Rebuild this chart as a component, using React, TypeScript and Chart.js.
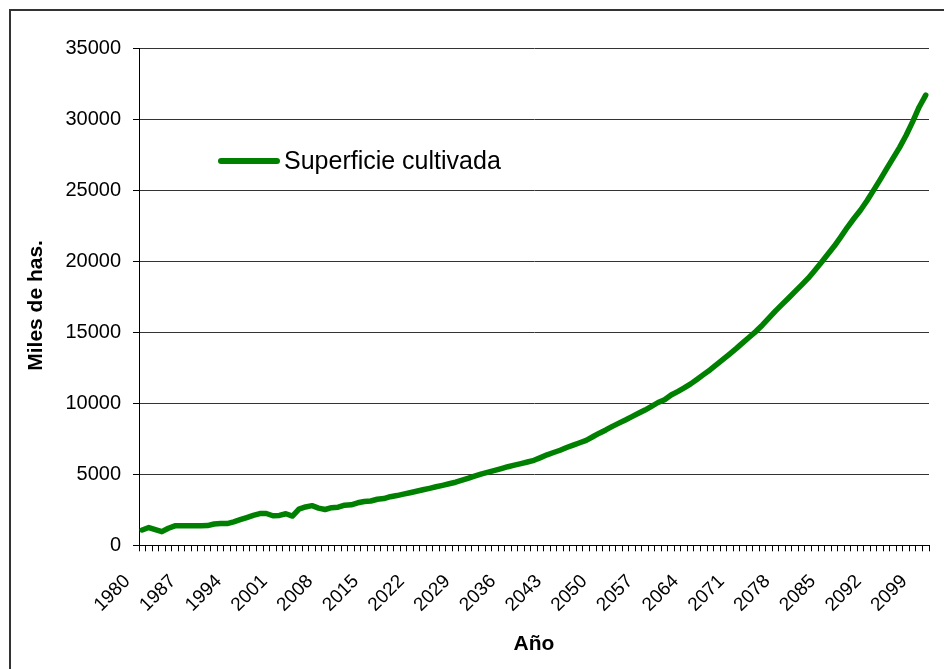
import { useEffect, useRef } from 'react';
import { Chart, registerables } from 'chart.js';

Chart.register(...registerables);

const years = [
  '1980', '1981', '1982', '1983', '1984', '1985', '1986', '1987', '1988', '1989',
  '1990', '1991', '1992', '1993', '1994', '1995', '1996', '1997', '1998', '1999',
  '2000', '2001', '2002', '2003', '2004', '2005', '2006', '2007', '2008', '2009',
  '2010', '2011', '2012', '2013', '2014', '2015', '2016', '2017', '2018', '2019',
  '2020', '2021', '2022', '2023', '2024', '2025', '2026', '2027', '2028', '2029',
  '2030', '2031', '2032', '2033', '2034', '2035', '2036', '2037', '2038', '2039',
  '2040', '2041', '2042', '2043', '2044', '2045', '2046', '2047', '2048', '2049',
  '2050', '2051', '2052', '2053', '2054', '2055', '2056', '2057', '2058', '2059',
  '2060', '2061', '2062', '2063', '2064', '2065', '2066', '2067', '2068', '2069',
  '2070', '2071', '2072', '2073', '2074', '2075', '2076', '2077', '2078', '2079',
  '2080', '2081', '2082', '2083', '2084', '2085', '2086', '2087', '2088', '2089',
  '2090', '2091', '2092', '2093', '2094', '2095', '2096', '2097', '2098', '2099',
  '2100',
];

const superficie = [
  1080, 1250, 1100, 960, 1200, 1370, 1380, 1380, 1380, 1380,
  1390, 1500, 1530, 1530, 1650, 1800, 1950, 2100, 2230, 2240,
  2080, 2100, 2220, 2060, 2550, 2700, 2790, 2620, 2520, 2650,
  2680, 2820, 2850, 2990, 3080, 3120, 3240, 3290, 3420, 3500,
  3600, 3700, 3800, 3910, 4010, 4120, 4220, 4330, 4440, 4580,
  4730, 4880, 5030, 5150, 5270, 5400, 5530, 5640, 5750, 5860,
  5980, 6170, 6370, 6530, 6690, 6880, 7050, 7220, 7390, 7640,
  7890, 8120, 8370, 8600, 8820, 9060, 9290, 9520, 9780, 10050,
  10250, 10580, 10820, 11080, 11360, 11690, 12030, 12360, 12730, 13100,
  13480, 13860, 14260, 14660, 15060, 15510, 16000, 16500, 16960, 17410,
  17870, 18330, 18800, 19340, 19900, 20480, 21060, 21710, 22380, 23000,
  23580, 24250, 24980, 25720, 26490, 27250, 28010, 28860, 29820, 30850,
  31680,
];

const seriesLabel = 'Superficie cultivada';
const yAxisTitle = 'Miles de has.';
const xAxisTitle = 'Año';
const yMin = 0;
const yMax = 35000;
const yStep = 5000;
const labelEvery = 7;

const FONT = '"Liberation Sans", Arial, sans-serif';
const GREEN = '#008000';

const legendPlugin = {
  id: 'insideLegend',
  afterDraw(chart: any) {
    const ctx = chart.ctx;
    const ds = chart.data.datasets[0];
    ctx.save();
    ctx.strokeStyle = ds.borderColor;
    ctx.lineWidth = 6;
    ctx.lineCap = 'round';
    ctx.beginPath();
    ctx.moveTo(221, 161);
    ctx.lineTo(277, 161);
    ctx.stroke();
    ctx.fillStyle = '#000';
    ctx.font = `25px ${FONT}`;
    ctx.textBaseline = 'alphabetic';
    ctx.textAlign = 'left';
    ctx.fillText(ds.label, 284, 169);
    ctx.restore();
  },
};

export default function App() {
  const ref = useRef<HTMLCanvasElement | null>(null);

  useEffect(() => {
    if (!ref.current) return;
    const chart = new Chart(ref.current, {
      type: 'line',
      data: {
        labels: years,
        datasets: [
          {
            label: seriesLabel,
            data: superficie,
            borderColor: GREEN,
            backgroundColor: GREEN,
            borderWidth: 5.5,
            pointRadius: 0,
            pointHoverRadius: 0,
            tension: 0,
            borderJoinStyle: 'round',
            borderCapStyle: 'round',
            fill: false,
          },
        ],
      },
      options: {
        animation: false,
        responsive: true,
        maintainAspectRatio: false,
        layout: { padding: { left: 0, top: 48, right: 15, bottom: 0 } },
        plugins: {
          legend: { display: false },
          tooltip: { enabled: false },
        },
        scales: {
          x: {
            type: 'category',
            offset: true,
            grid: {
              offset: true,
              drawOnChartArea: false,
              drawTicks: true,
              tickLength: 6,
              color: '#000',
              lineWidth: 1,
            },
            border: { color: '#000', width: 1 },
            ticks: {
              autoSkip: false,
              minRotation: 45,
              maxRotation: 45,
              padding: 4,
              color: '#000',
              font: { family: FONT, size: 19 },
              callback: (_v: any, i: number) => (i % labelEvery === 0 ? years[i] + '    ' : ''),
            },
            title: {
              display: true,
              text: xAxisTitle,
              color: '#000',
              font: { family: FONT, size: 21, weight: 'bold' },
              padding: { top: 0, bottom: 12 },
            },
            afterFit: (scale: any) => {
              scale.height = 123.7;
              scale.paddingLeft = 0;
              scale.paddingRight = 0;
            },
          },
          y: {
            min: yMin,
            max: yMax,
            ticks: {
              stepSize: yStep,
              padding: 12,
              color: '#000',
              font: { family: FONT, size: 20 },
              callback: (v: any) => String(v),
            },
            grid: {
              color: '#333',
              tickColor: '#000',
              tickLength: 6,
              lineWidth: 1,
            },
            border: { color: '#000', width: 1 },
            title: {
              display: true,
              text: yAxisTitle + '   ',
              color: '#000',
              font: { family: FONT, size: 21, weight: 'bold' },
              padding: { top: 24, bottom: 0 },
            },
            afterFit: (scale: any) => {
              scale.width = 139;
            },
          },
        },
      },
      plugins: [legendPlugin],
    });
    return () => chart.destroy();
  }, []);

  return (
    <div
      style={{
        position: 'fixed',
        left: 0,
        top: 0,
        width: 944,
        height: 669,
        overflow: 'hidden',
        background: '#fff',
      }}
    >
      <canvas ref={ref} />
      <div
        style={{
          position: 'absolute',
          left: 9,
          top: 9,
          width: 1000,
          height: 1000,
          borderLeft: '2px solid #333',
          borderTop: '2px solid #333',
          pointerEvents: 'none',
        }}
      />
    </div>
  );
}
